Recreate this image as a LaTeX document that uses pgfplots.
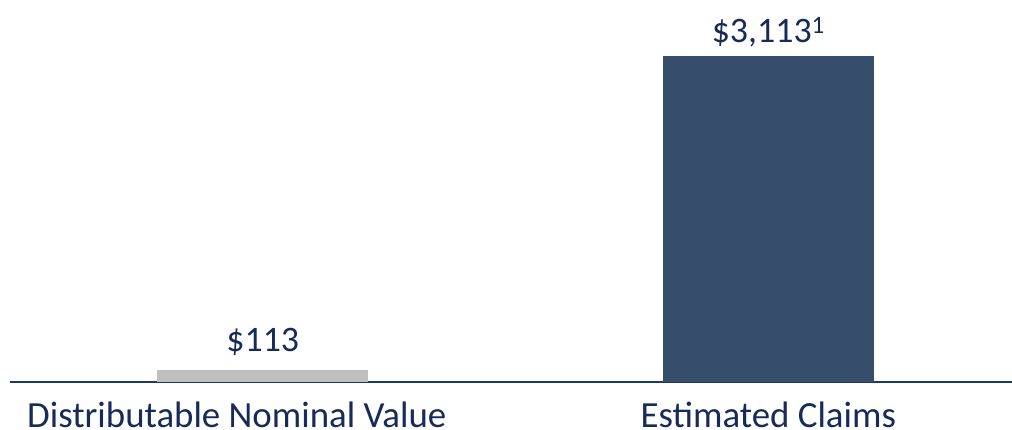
\documentclass[border=0pt]{standalone}
\usepackage{fontspec}
\setmainfont{Carlito}
\usepackage{pgfplots}
\pgfplotsset{compat=1.18}
\definecolor{navybar}{HTML}{374D6C}
\definecolor{graybar}{HTML}{BFBFBF}
\definecolor{txt}{HTML}{162B5A}
\definecolor{axln}{HTML}{1F3864}
\begin{document}
\begin{tikzpicture}[x=1bp,y=1bp]
\begin{axis}[
  scale only axis,
  width=1002bp, height=382bp,
  xmin=-0.5, xmax=1.482,
  ymin=0, ymax=3648,
  ybar, bar width=211bp, bar shift=0pt,
  axis y line=none,
  axis x line*=bottom,
  x axis line style={draw=axln, line width=2bp},
  xtick={0,1},
  xticklabels={\hspace*{-52bp}Distributable Nominal Value, Estimated Claims},
  xtick style={draw=none},
  major tick length=0pt,
  xticklabel style={anchor=base, yshift=-45bp, inner sep=0pt, text=txt, font=\fontsize{37}{40}\selectfont},
  ytick=\empty,
  clip=false,
  point meta=explicit symbolic,
  nodes near coords,
  every node near coord/.append style={anchor=base, text=txt, font=\fontsize{36}{40}\selectfont, inner sep=0pt},
]
\addplot[fill=graybar, draw=none, every node near coord/.append style={yshift=19bp}] coordinates {(0,113) [\$113]};
\addplot[fill=navybar, draw=none, every node near coord/.append style={yshift=14bp}] coordinates {(1,3113) [\$3,113\textsuperscript{1}]};
\end{axis}
\pgfresetboundingbox
\path[use as bounding box] (-10bp,-48bp) rectangle (1002bp,382bp);
\end{tikzpicture}
\end{document}
